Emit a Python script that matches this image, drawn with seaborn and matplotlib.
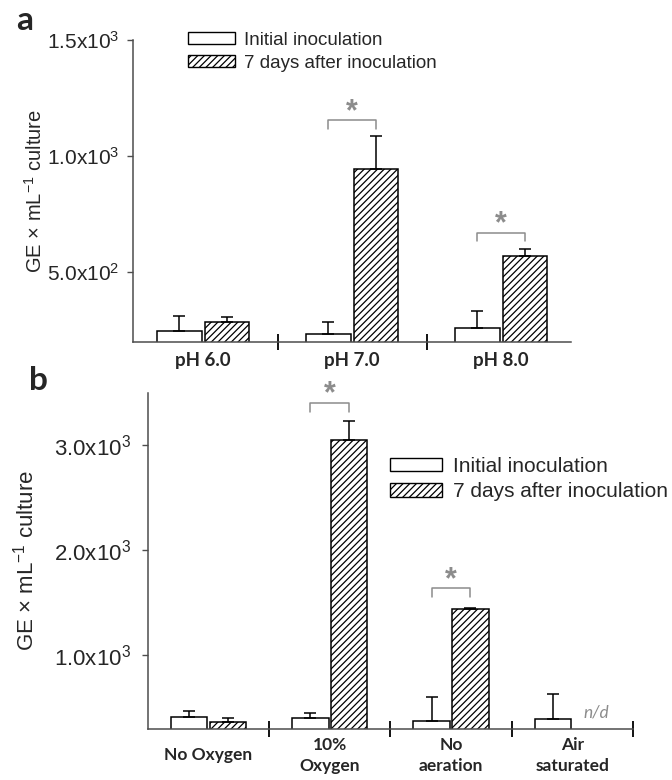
import numpy as np
import pandas as pd
import matplotlib
matplotlib.use("Agg")
import matplotlib.pyplot as plt
import seaborn as sns
from matplotlib.patches import Patch

# values (GE x mL-1 culture)
ph_labels = ["pH 6.0", "pH 7.0", "pH 8.0"]
ph_initial = [249, 236, 259]
ph_initial_err = [64, 50, 74]
ph_7days = [286, 945, 569]
ph_7days_err = [23, 140, 33]

oxy_labels = ["No Oxygen", "10%\nOxygen", "No\naeration", "Air\nsaturated"]
oxy_initial = [412, 403, 374, 396]
oxy_initial_err = [58, 54, 235, 235]
oxy_7days = [371, 3054, 1438, np.nan]   # n/d for air saturated
oxy_7days_err = [38, 178, 16, np.nan]

hue_names = ["Initial inoculation", "7 days after inoculation"]

sns.set_style("white")
plt.rcParams["font.family"] = ["Liberation Sans", "DejaVu Sans"]
plt.rcParams["mathtext.fontset"] = "custom"
plt.rcParams["mathtext.rm"] = "Liberation Sans"
plt.rcParams["mathtext.it"] = "Liberation Sans:italic"
plt.rcParams["hatch.linewidth"] = 0.9
plt.rcParams["hatch.color"] = "black"

grey = "#8c8c8c"
axis_col = "#4d4d4d"


def make_df(labels, init, late):
    df = pd.DataFrame({
        "group": labels * 2,
        "time": [hue_names[0]] * len(labels) + [hue_names[1]] * len(labels),
        "value": list(init) + list(late),
    })
    return df.dropna()


def draw_panel(ax, labels, init, init_err, late, late_err, fs, tfs):
    df = make_df(labels, init, late)
    sns.barplot(data=df, x="group", y="value", hue="time", order=labels,
                hue_order=hue_names, width=0.64, gap=0.06, errorbar=None,
                palette=["white", "white"], edgecolor="black", linewidth=1.1,
                legend=False, ax=ax, zorder=2)
    errs = [init_err, late_err]
    bar_sets = list(ax.containers)
    for k, cont in enumerate(bar_sets):
        for p in cont.patches:
            xc = p.get_x() + p.get_width() / 2
            i = int(round(xc))
            if k == 1:
                p.set_hatch("/////")
            e = errs[k][i]
            ax.errorbar(xc, p.get_height(), yerr=[[0], [e]], fmt="none",
                        ecolor="black", elinewidth=1.1, capsize=4, capthick=1.1,
                        zorder=3)
    for s in ["top", "right"]:
        ax.spines[s].set_visible(False)
    for s in ["left", "bottom"]:
        ax.spines[s].set_color(axis_col)
        ax.spines[s].set_linewidth(1.1)
    ax.set_xlabel("")
    ax.set_ylabel("GE × mL$^{-1}$ culture", fontsize=fs)
    ax.tick_params(axis="y", direction="out", length=4, width=1, color=axis_col,
                   left=True, labelsize=tfs, pad=6)
    ax.tick_params(axis="x", which="major", length=0)
    ax.set_xticks(np.arange(len(labels)) + 0.5, minor=True)
    ax.tick_params(axis="x", which="minor", direction="inout", length=12,
                   width=1.3, color="black", bottom=True)


def bracket(ax, x1, x2, y, leg, star_y, fs):
    ax.plot([x1, x1, x2, x2], [y - leg, y, y, y - leg], color=grey, lw=1.1,
            zorder=4)
    ax.text((x1 + x2) / 2, star_y, "*", color=grey, fontsize=fs,
            ha="center", va="center", fontweight="bold")


fig = plt.figure(figsize=(6.72, 7.8), dpi=100)

# panel a
ax1 = fig.add_axes([0.198, 0.5615, 0.652, 0.3872])
draw_panel(ax1, ph_labels, ph_initial, ph_initial_err, ph_7days, ph_7days_err,
           14.5, 15)
ax1.set_xlim(-0.47, 2.47)
ax1.set_ylim(200, 1500)
ax1.set_yticks([500, 1000, 1500])
ax1.set_yticklabels(["5.0x10$^2$", "1.0x10$^3$", "1.5x10$^3$"])
ax1.set_xticks(range(3))
ax1.set_xticklabels(ph_labels, fontsize=13.5, fontweight="bold",
                    family=["Lato", "DejaVu Sans"])
ax1.tick_params(axis="x", which="major", pad=7)
ax1.yaxis.set_label_coords(-0.2, 0.5)
bracket(ax1, 0.84, 1.16, 1155, 37, 1190, 22)
bracket(ax1, 1.84, 2.16, 671, 38, 706, 22)

handles = [Patch(facecolor="white", edgecolor="black", linewidth=1.0),
           Patch(facecolor="white", edgecolor="black", linewidth=1.0, hatch="/////")]
fig.legend(handles, hue_names, loc="upper left",
           bbox_to_anchor=(188 / 672, 1 - 32 / 780), frameon=False, fontsize=13.5,
           handlelength=2.5, handleheight=0.6, handletextpad=0.5,
           labelspacing=0.3, borderpad=0, borderaxespad=0)

# panel b
ax2 = fig.add_axes([0.220, 0.0654, 0.722, 0.4308])
draw_panel(ax2, oxy_labels, oxy_initial, oxy_initial_err, oxy_7days, oxy_7days_err,
           16, 16)
ax2.set_xlim(-0.5, 3.5)
ax2.set_ylim(300, 3500)
ax2.set_yticks([1000, 2000, 3000])
ax2.set_yticklabels(["1.0x10$^3$", "2.0x10$^3$", "3.0x10$^3$"])
ax2.tick_params(axis="y", pad=8)
ax2.set_xticks(range(4))
ax2.set_xticklabels(oxy_labels, fontsize=12.5, fontweight="bold",
                    family=["Lato", "DejaVu Sans"], va="center",
                    linespacing=1.35)
ax2.tick_params(axis="x", which="major", pad=19)
ax2.yaxis.set_label_coords(-0.225, 0.5)
bracket(ax2, 0.84, 1.16, 3403, 80, 3483, 22)
bracket(ax2, 1.84, 2.16, 1641, 80, 1720, 22)
ax2.text(3.2, 455, "n/d", color=grey, fontsize=12.5, style="italic",
         ha="center", va="center", family=["Lato", "DejaVu Sans"])

fig.legend(handles, hue_names, loc="upper left",
           bbox_to_anchor=(390 / 672, 1 - 457 / 780), frameon=False, fontsize=15,
           handlelength=2.5, handleheight=0.6, handletextpad=0.5,
           labelspacing=0.3, borderpad=0, borderaxespad=0)

fig.text(25 / 672, 1 - 20 / 780, "a", fontsize=24, fontweight="bold",
         ha="center", va="center", family=["Lato", "DejaVu Sans"])
fig.text(38 / 672, 1 - 380 / 780, "b", fontsize=24, fontweight="bold",
         ha="center", va="center", family=["Lato", "DejaVu Sans"])

fig.savefig("out.png", dpi=100)
